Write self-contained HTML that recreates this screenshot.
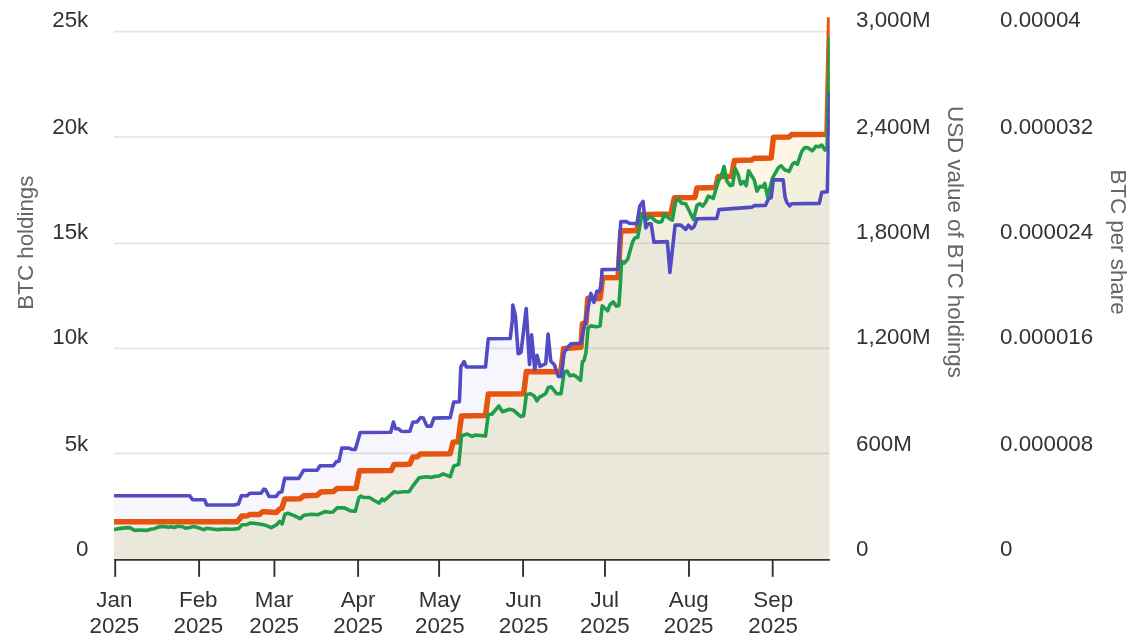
<!DOCTYPE html>
<html><head><meta charset="utf-8"><title>BTC holdings chart</title>
<style>html,body{margin:0;padding:0;background:#fff;overflow:hidden}body{width:1133px;height:640px;font-family:"Liberation Sans",Arial,sans-serif}</style>
</head><body>
<svg width="1133" height="640" viewBox="0 0 1133 640" style="display:block">
<defs><clipPath id="c"><rect x="114.0" y="0" width="715.7" height="560.0"/></clipPath></defs>
<rect width="1133" height="640" fill="#fff"/>
<line x1="114.0" x2="829.7" y1="31.6" y2="31.6" stroke="#e5e5e5" stroke-width="1.7"/>
<line x1="114.0" x2="829.7" y1="136.8" y2="136.8" stroke="#e5e5e5" stroke-width="1.7"/>
<line x1="114.0" x2="829.7" y1="243.4" y2="243.4" stroke="#e5e5e5" stroke-width="1.7"/>
<line x1="114.0" x2="829.7" y1="348.4" y2="348.4" stroke="#e5e5e5" stroke-width="1.7"/>
<line x1="114.0" x2="829.7" y1="453.4" y2="453.4" stroke="#e5e5e5" stroke-width="1.7"/>
<g clip-path="url(#c)">
<path d="M114.0,521.8L237.3,521.8L241.8,516.0L247.1,516.0L249.6,514.5L259.4,514.5L262.5,511.7L265.0,511.7L276.2,512.5L279.7,509.0L281.8,508.3L284.7,499.1L300.2,498.7L303.7,495.8L317.1,495.3L320.7,492.0L333.4,491.6L336.9,488.5L356.0,488.2L359.5,470.8L391.3,470.4L394.1,464.5L405.0,464.4L409.9,463.9L412.8,457.1L417.0,456.8L420.5,454.0L450.2,453.7L453.0,442.3L458.0,441.8L461.5,415.9L485.5,415.6L488.3,394.0L523.6,393.8L526.4,371.4L560.8,371.7L563.7,348.4L565.0,348.4L581.0,347.3L582.4,323.7L586.0,323.0L587.8,298.3L600.1,298.4L602.6,277.7L618.0,277.6L620.8,231.0L637.0,230.5L639.8,214.7L670.9,214.0L673.7,200.6L674.4,197.8L694.9,197.5L697.0,187.9L715.4,187.6L718.2,176.6L731.6,176.3L734.4,160.4L751.4,160.1L754.2,158.3L771.2,158.0L773.4,137.3L789.0,137.0L791.8,134.4L825.0,134.2L827.0,133.6L829.7,17.2L829.7,560.0L114.0,560.0Z" fill="#f0a800" fill-opacity="0.1" stroke="none"/>
<path d="M114.0,529.7L119.1,528.6L124.8,527.9L129.7,527.6L134.7,530.4L140.3,530.0L146.7,530.4L151.6,529.0L154.4,528.7L158.7,526.9L164.3,526.5L168.5,527.2L171.4,526.8L174.2,527.5L177.0,526.5L182.0,526.5L185.5,528.2L189.7,527.5L193.3,526.5L196.8,527.2L203.9,529.6L206.7,528.2L212.3,529.0L218.0,529.6L225.0,529.0L232.1,529.3L238.5,528.6L242.0,524.8L246.2,524.8L250.5,523.0L257.5,523.7L265.0,525.1L267.7,526.1L271.2,527.6L276.5,524.8L279.6,521.5L282.2,523.8L284.9,514.2L288.0,513.2L294.1,515.6L300.3,518.6L303.8,515.3L311.8,514.2L318.0,514.7L325.0,511.6L329.4,512.3L333.0,512.0L336.9,507.9L344.4,507.9L350.0,510.7L351.0,510.9L355.3,511.2L358.8,497.9L360.9,496.1L363.7,497.5L369.4,497.5L375.0,501.0L379.3,503.1L382.1,498.9L384.2,500.6L394.1,491.8L397.6,492.5L403.3,491.8L408.9,491.8L409.9,490.4L413.5,485.1L419.1,477.8L426.2,476.7L431.1,477.4L434.7,476.4L438.9,476.0L443.1,473.8L450.2,476.7L453.7,466.1L458.7,464.2L461.5,435.7L467.1,434.0L472.1,436.4L475.6,435.0L485.5,436.0L488.3,414.2L491.8,414.2L498.9,406.0L502.4,411.7L509.5,409.2L513.7,410.3L520.8,416.6L523.6,415.7L526.4,394.5L530.7,393.8L534.2,396.0L537.0,400.9L539.2,397.4L545.5,393.8L548.3,387.5L551.2,386.8L556.8,393.8L561.0,393.8L563.9,374.1L564.7,371.8L567.2,371.1L569.7,375.7L573.2,374.9L576.0,376.4L580.6,380.3L582.4,361.6L583.9,360.9L586.0,352.4L588.1,327.7L590.9,325.9L596.6,326.7L600.1,325.9L602.2,305.8L607.6,310.8L610.0,304.7L613.2,301.9L616.3,306.1L618.9,305.5L620.6,280.4L621.5,261.1L624.3,263.2L627.8,259.0L630.7,248.4L632.8,241.4L634.9,237.8L637.7,237.4L642.0,214.5L646.9,219.5L650.4,216.2L655.4,220.9L658.9,222.3L661.7,221.6L664.6,213.8L667.4,217.3L672.3,220.2L675.8,201.1L678.2,199.0L681.5,203.2L685.7,203.7L689.3,211.0L693.5,219.5L697.0,205.4L699.8,203.7L702.7,206.1L705.5,202.5L708.3,196.2L713.3,198.3L718.2,181.4L721.0,176.8L724.1,166.5L726.7,180.6L730.2,185.6L732.6,184.9L735.2,168.6L738.0,174.3L740.8,184.2L743.6,181.4L746.2,185.6L748.6,170.8L754.2,179.9L757.0,191.2L759.9,186.3L762.7,187.0L764.8,183.5L767.6,196.9L772.6,177.8L778.2,167.9L781.0,165.8L785.0,170.1L786.1,170.1L789.0,171.5L792.5,164.2L794.6,162.5L797.4,164.2L801.7,151.5L804.5,147.9L807.3,147.5L812.3,150.8L816.1,146.1L818.6,146.9L821.7,145.1L825.0,150.1L827.0,148.0L829.7,37.0L829.7,560.0L114.0,560.0Z" fill="#1f9e4a" fill-opacity="0.052" stroke="none"/>
<path d="M114.0,495.7L189.7,495.7L192.6,499.7L204.6,499.7L206.7,505.0L234.2,505.0L238.5,503.9L241.3,495.8L246.9,495.8L249.7,493.3L261.0,493.3L263.9,489.1L265.6,489.7L269.1,496.5L276.2,496.5L279.0,492.5L281.8,491.8L284.7,478.4L298.8,478.4L303.7,470.2L317.1,470.2L320.0,465.7L333.4,465.7L336.2,461.8L339.0,461.2L341.8,448.1L348.9,448.1L352.4,449.5L355.3,449.5L360.2,432.5L390.7,432.2L393.4,422.1L395.5,428.7L398.2,428.7L401.3,431.2L405.0,431.5L409.9,431.2L412.8,422.3L417.0,421.9L420.5,417.6L423.4,418.1L426.9,426.1L431.1,426.1L433.9,418.1L450.2,417.6L453.7,402.1L459.4,401.8L460.8,367.0L464.0,361.6L466.4,367.0L485.5,367.0L488.3,338.8L510.2,338.5L512.3,320.4L512.8,305.1L515.4,315.7L518.2,353.8L521.0,352.4L526.2,308.6L529.5,364.4L531.6,334.8L534.7,369.4L537.0,355.2L540.1,366.5L545.7,363.7L548.1,334.1L550.7,360.9L554.2,364.4L558.4,376.4L561.3,376.4L563.9,353.1L566.9,348.2L571.1,343.7L581.0,343.2L590.9,293.4L594.0,302.3L596.8,291.4L600.1,291.0L601.5,280.4L602.0,269.6L618.0,269.3L620.8,221.6L626.4,221.6L629.3,223.3L637.0,223.7L639.8,206.0L643.0,201.5L645.8,227.9L648.3,223.7L651.1,223.7L654.0,242.1L667.4,241.6L669.9,272.4L675.1,225.1L680.8,225.1L685.7,229.4L688.5,225.1L691.4,228.7L694.2,226.5L697.0,218.8L716.8,218.4L718.9,209.6L752.1,207.1L754.2,205.6L765.5,205.4L768.3,199.0L771.2,197.6L773.3,179.9L783.2,179.9L785.0,196.9L786.8,202.3L789.7,205.8L791.8,203.7L819.3,203.4L821.7,192.4L827.3,191.8L829.7,92.0L829.7,560.0L114.0,560.0Z" fill="#524bc4" fill-opacity="0.05" stroke="none"/>
<path d="M114.0,521.8L237.3,521.8L241.8,516.0L247.1,516.0L249.6,514.5L259.4,514.5L262.5,511.7L265.0,511.7L276.2,512.5L279.7,509.0L281.8,508.3L284.7,499.1L300.2,498.7L303.7,495.8L317.1,495.3L320.7,492.0L333.4,491.6L336.9,488.5L356.0,488.2L359.5,470.8L391.3,470.4L394.1,464.5L405.0,464.4L409.9,463.9L412.8,457.1L417.0,456.8L420.5,454.0L450.2,453.7L453.0,442.3L458.0,441.8L461.5,415.9L485.5,415.6L488.3,394.0L523.6,393.8L526.4,371.4L560.8,371.7L563.7,348.4L565.0,348.4L581.0,347.3L582.4,323.7L586.0,323.0L587.8,298.3L600.1,298.4L602.6,277.7L618.0,277.6L620.8,231.0L637.0,230.5L639.8,214.7L670.9,214.0L673.7,200.6L674.4,197.8L694.9,197.5L697.0,187.9L715.4,187.6L718.2,176.6L731.6,176.3L734.4,160.4L751.4,160.1L754.2,158.3L771.2,158.0L773.4,137.3L789.0,137.0L791.8,134.4L825.0,134.2L827.0,133.6L829.7,17.2" fill="none" stroke="#e5550f" stroke-width="5.5" stroke-linejoin="round" stroke-linecap="butt"/>
<path d="M114.0,529.7L119.1,528.6L124.8,527.9L129.7,527.6L134.7,530.4L140.3,530.0L146.7,530.4L151.6,529.0L154.4,528.7L158.7,526.9L164.3,526.5L168.5,527.2L171.4,526.8L174.2,527.5L177.0,526.5L182.0,526.5L185.5,528.2L189.7,527.5L193.3,526.5L196.8,527.2L203.9,529.6L206.7,528.2L212.3,529.0L218.0,529.6L225.0,529.0L232.1,529.3L238.5,528.6L242.0,524.8L246.2,524.8L250.5,523.0L257.5,523.7L265.0,525.1L267.7,526.1L271.2,527.6L276.5,524.8L279.6,521.5L282.2,523.8L284.9,514.2L288.0,513.2L294.1,515.6L300.3,518.6L303.8,515.3L311.8,514.2L318.0,514.7L325.0,511.6L329.4,512.3L333.0,512.0L336.9,507.9L344.4,507.9L350.0,510.7L351.0,510.9L355.3,511.2L358.8,497.9L360.9,496.1L363.7,497.5L369.4,497.5L375.0,501.0L379.3,503.1L382.1,498.9L384.2,500.6L394.1,491.8L397.6,492.5L403.3,491.8L408.9,491.8L409.9,490.4L413.5,485.1L419.1,477.8L426.2,476.7L431.1,477.4L434.7,476.4L438.9,476.0L443.1,473.8L450.2,476.7L453.7,466.1L458.7,464.2L461.5,435.7L467.1,434.0L472.1,436.4L475.6,435.0L485.5,436.0L488.3,414.2L491.8,414.2L498.9,406.0L502.4,411.7L509.5,409.2L513.7,410.3L520.8,416.6L523.6,415.7L526.4,394.5L530.7,393.8L534.2,396.0L537.0,400.9L539.2,397.4L545.5,393.8L548.3,387.5L551.2,386.8L556.8,393.8L561.0,393.8L563.9,374.1L564.7,371.8L567.2,371.1L569.7,375.7L573.2,374.9L576.0,376.4L580.6,380.3L582.4,361.6L583.9,360.9L586.0,352.4L588.1,327.7L590.9,325.9L596.6,326.7L600.1,325.9L602.2,305.8L607.6,310.8L610.0,304.7L613.2,301.9L616.3,306.1L618.9,305.5L620.6,280.4L621.5,261.1L624.3,263.2L627.8,259.0L630.7,248.4L632.8,241.4L634.9,237.8L637.7,237.4L642.0,214.5L646.9,219.5L650.4,216.2L655.4,220.9L658.9,222.3L661.7,221.6L664.6,213.8L667.4,217.3L672.3,220.2L675.8,201.1L678.2,199.0L681.5,203.2L685.7,203.7L689.3,211.0L693.5,219.5L697.0,205.4L699.8,203.7L702.7,206.1L705.5,202.5L708.3,196.2L713.3,198.3L718.2,181.4L721.0,176.8L724.1,166.5L726.7,180.6L730.2,185.6L732.6,184.9L735.2,168.6L738.0,174.3L740.8,184.2L743.6,181.4L746.2,185.6L748.6,170.8L754.2,179.9L757.0,191.2L759.9,186.3L762.7,187.0L764.8,183.5L767.6,196.9L772.6,177.8L778.2,167.9L781.0,165.8L785.0,170.1L786.1,170.1L789.0,171.5L792.5,164.2L794.6,162.5L797.4,164.2L801.7,151.5L804.5,147.9L807.3,147.5L812.3,150.8L816.1,146.1L818.6,146.9L821.7,145.1L825.0,150.1L827.0,148.0L829.7,37.0" fill="none" stroke="#1f9e4a" stroke-width="3.6" stroke-linejoin="round" stroke-linecap="butt"/>
<path d="M114.0,495.7L189.7,495.7L192.6,499.7L204.6,499.7L206.7,505.0L234.2,505.0L238.5,503.9L241.3,495.8L246.9,495.8L249.7,493.3L261.0,493.3L263.9,489.1L265.6,489.7L269.1,496.5L276.2,496.5L279.0,492.5L281.8,491.8L284.7,478.4L298.8,478.4L303.7,470.2L317.1,470.2L320.0,465.7L333.4,465.7L336.2,461.8L339.0,461.2L341.8,448.1L348.9,448.1L352.4,449.5L355.3,449.5L360.2,432.5L390.7,432.2L393.4,422.1L395.5,428.7L398.2,428.7L401.3,431.2L405.0,431.5L409.9,431.2L412.8,422.3L417.0,421.9L420.5,417.6L423.4,418.1L426.9,426.1L431.1,426.1L433.9,418.1L450.2,417.6L453.7,402.1L459.4,401.8L460.8,367.0L464.0,361.6L466.4,367.0L485.5,367.0L488.3,338.8L510.2,338.5L512.3,320.4L512.8,305.1L515.4,315.7L518.2,353.8L521.0,352.4L526.2,308.6L529.5,364.4L531.6,334.8L534.7,369.4L537.0,355.2L540.1,366.5L545.7,363.7L548.1,334.1L550.7,360.9L554.2,364.4L558.4,376.4L561.3,376.4L563.9,353.1L566.9,348.2L571.1,343.7L581.0,343.2L590.9,293.4L594.0,302.3L596.8,291.4L600.1,291.0L601.5,280.4L602.0,269.6L618.0,269.3L620.8,221.6L626.4,221.6L629.3,223.3L637.0,223.7L639.8,206.0L643.0,201.5L645.8,227.9L648.3,223.7L651.1,223.7L654.0,242.1L667.4,241.6L669.9,272.4L675.1,225.1L680.8,225.1L685.7,229.4L688.5,225.1L691.4,228.7L694.2,226.5L697.0,218.8L716.8,218.4L718.9,209.6L752.1,207.1L754.2,205.6L765.5,205.4L768.3,199.0L771.2,197.6L773.3,179.9L783.2,179.9L785.0,196.9L786.8,202.3L789.7,205.8L791.8,203.7L819.3,203.4L821.7,192.4L827.3,191.8L829.7,92.0" fill="none" stroke="#524bc4" stroke-width="3.6" stroke-linejoin="round" stroke-linecap="butt"/>
</g>
<line x1="114.2" x2="829.8" y1="559.9" y2="559.9" stroke="#333" stroke-width="1.9"/>
<g font-family="'Liberation Sans', Arial, sans-serif" font-size="21.33" fill="#333">
<line x1="115.2" x2="115.2" y1="559" y2="576.8" stroke="#333" stroke-width="1.9"/>
<text transform="translate(114.3,606.7) scale(1.048,1)" text-anchor="middle">Jan</text>
<text transform="translate(114.3,633.0) scale(1.048,1)" text-anchor="middle">2025</text>
<line x1="199.1" x2="199.1" y1="559" y2="576.8" stroke="#333" stroke-width="1.9"/>
<text transform="translate(198.3,606.7) scale(1.048,1)" text-anchor="middle">Feb</text>
<text transform="translate(198.3,633.0) scale(1.048,1)" text-anchor="middle">2025</text>
<line x1="274.4" x2="274.4" y1="559" y2="576.8" stroke="#333" stroke-width="1.9"/>
<text transform="translate(274.1,606.7) scale(1.048,1)" text-anchor="middle">Mar</text>
<text transform="translate(274.1,633.0) scale(1.048,1)" text-anchor="middle">2025</text>
<line x1="358.1" x2="358.1" y1="559" y2="576.8" stroke="#333" stroke-width="1.9"/>
<text transform="translate(358.1,606.7) scale(1.048,1)" text-anchor="middle">Apr</text>
<text transform="translate(358.1,633.0) scale(1.048,1)" text-anchor="middle">2025</text>
<line x1="439.1" x2="439.1" y1="559" y2="576.8" stroke="#333" stroke-width="1.9"/>
<text transform="translate(439.8,606.7) scale(1.048,1)" text-anchor="middle">May</text>
<text transform="translate(439.8,633.0) scale(1.048,1)" text-anchor="middle">2025</text>
<line x1="523.1" x2="523.1" y1="559" y2="576.8" stroke="#333" stroke-width="1.9"/>
<text transform="translate(523.6,606.7) scale(1.048,1)" text-anchor="middle">Jun</text>
<text transform="translate(523.6,633.0) scale(1.048,1)" text-anchor="middle">2025</text>
<line x1="605.0" x2="605.0" y1="559" y2="576.8" stroke="#333" stroke-width="1.9"/>
<text transform="translate(604.8,606.7) scale(1.048,1)" text-anchor="middle">Jul</text>
<text transform="translate(604.8,633.0) scale(1.048,1)" text-anchor="middle">2025</text>
<line x1="689.0" x2="689.0" y1="559" y2="576.8" stroke="#333" stroke-width="1.9"/>
<text transform="translate(688.7,606.7) scale(1.048,1)" text-anchor="middle">Aug</text>
<text transform="translate(688.7,633.0) scale(1.048,1)" text-anchor="middle">2025</text>
<line x1="772.7" x2="772.7" y1="559" y2="576.8" stroke="#333" stroke-width="1.9"/>
<text transform="translate(773.2,606.7) scale(1.048,1)" text-anchor="middle">Sep</text>
<text transform="translate(773.2,633.0) scale(1.048,1)" text-anchor="middle">2025</text>
<text transform="translate(88.3,27.4) scale(1.048,1)" text-anchor="end">25k</text>
<text transform="translate(88.3,133.8) scale(1.048,1)" text-anchor="end">20k</text>
<text transform="translate(88.3,238.8) scale(1.048,1)" text-anchor="end">15k</text>
<text transform="translate(88.3,343.8) scale(1.048,1)" text-anchor="end">10k</text>
<text transform="translate(88.3,451.1) scale(1.048,1)" text-anchor="end">5k</text>
<text transform="translate(88.3,555.8) scale(1.048,1)" text-anchor="end">0</text>
<text transform="translate(856.0,27.4) scale(1.048,1)" text-anchor="start">3,000M</text>
<text transform="translate(856.0,133.8) scale(1.048,1)" text-anchor="start">2,400M</text>
<text transform="translate(856.0,238.8) scale(1.048,1)" text-anchor="start">1,800M</text>
<text transform="translate(856.0,343.8) scale(1.048,1)" text-anchor="start">1,200M</text>
<text transform="translate(856.0,451.1) scale(1.048,1)" text-anchor="start">600M</text>
<text transform="translate(856.0,555.8) scale(1.048,1)" text-anchor="start">0</text>
<text transform="translate(1000.0,27.4) scale(1.048,1)" text-anchor="start">0.00004</text>
<text transform="translate(1000.0,133.8) scale(1.048,1)" text-anchor="start">0.000032</text>
<text transform="translate(1000.0,238.8) scale(1.048,1)" text-anchor="start">0.000024</text>
<text transform="translate(1000.0,343.8) scale(1.048,1)" text-anchor="start">0.000016</text>
<text transform="translate(1000.0,451.1) scale(1.048,1)" text-anchor="start">0.000008</text>
<text transform="translate(1000.0,555.8) scale(1.048,1)" text-anchor="start">0</text>
</g>
<g font-family="'Liberation Sans', Arial, sans-serif" font-size="21.33" fill="#666">
<text transform="translate(33.0,242.6) rotate(-90) scale(1.048,1)" text-anchor="middle">BTC holdings</text>
<text transform="translate(948.0,242.0) rotate(90) scale(1.048,1)" text-anchor="middle">USD value of BTC holdings</text>
<text transform="translate(1111.0,242.0) rotate(90) scale(1.048,1)" text-anchor="middle">BTC per share</text>
</g>
</svg>
</body></html>
